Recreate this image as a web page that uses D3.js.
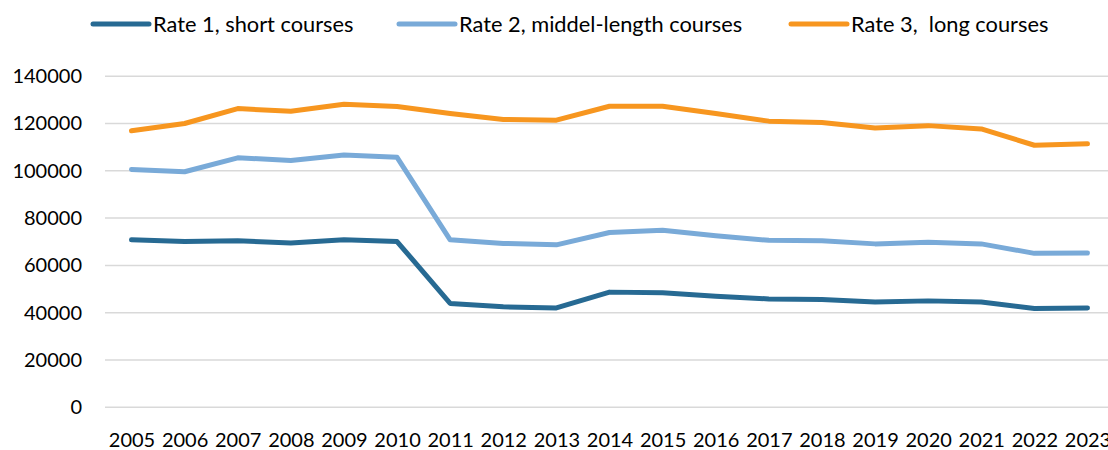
<!DOCTYPE html>
<html>
<head>
<meta charset="utf-8">
<script src="https://cdnjs.cloudflare.com/ajax/libs/d3/7.8.5/d3.min.js"></script>
<style>
  body { margin: 0; background: #fff; }
  text { font-family: Lato, "Open Sans", sans-serif; fill: #000; }
</style>
</head>
<body>
<div id="chart"></div>
<script>
const years = ["2005","2006","2007","2008","2009","2010","2011","2012","2013","2014",
               "2015","2016","2017","2018","2019","2020","2021","2022","2023"];

const rate1 = [70800, 70100, 70400, 69500, 70800, 70100, 43900, 42500, 42000, 48700,
               48400, 47000, 45800, 45600, 44500, 45000, 44500, 41800, 42000];
const rate2 = [100600, 99600, 105500, 104400, 106700, 105700, 70800, 69300, 68700, 73900,
               74900, 72500, 70600, 70400, 69100, 69800, 69100, 65100, 65200];
const rate3 = [116900, 120000, 126300, 125200, 128100, 127200, 124200, 121700, 121400, 127300,
               127300, 124200, 121000, 120400, 118100, 119100, 117700, 110800, 111400];

const seriesNames = ["Rate 1, short courses", "Rate 2, middel-length courses", "Rate 3,  long courses"];
const yTicks = [0, 20000, 40000, 60000, 80000, 100000, 120000, 140000];

const colors = ["#276a93", "#79aad8", "#f7961f"];
const series = [rate1, rate2, rate3];

const width = 1108, height = 450;

const svg = d3.select("#chart")
    .append("svg")
    .attr("width", width)
    .attr("height", height);

// scales
const x = d3.scalePoint()
    .domain(years)
    .range([131.5, 1087.5]);

const y = d3.scaleLinear()
    .domain([0, 140000])
    .range([407.3, 76.2]);

// gridlines
svg.append("g")
    .selectAll("line")
    .data(yTicks)
    .enter()
    .append("line")
    .attr("x1", 105)
    .attr("x2", width)
    .attr("y1", d => y(d))
    .attr("y2", d => y(d))
    .style("stroke", "#d9d9d9")
    .style("stroke-width", 1.5);

// y axis labels
const yAxis = svg.append("g")
    .attr("transform", "translate(82,0)")
    .call(d3.axisLeft(y).tickValues(yTicks).tickSize(0).tickPadding(0).tickFormat(d3.format("d")));
yAxis.select(".domain").remove();
yAxis.selectAll("text")
    .style("font-size", "20px")
    .style("font-family", "Lato, sans-serif")
    .attr("fill", "#000");

// x axis labels
const xAxis = svg.append("g")
    .attr("transform", "translate(0,420)")
    .call(d3.axisBottom(x).tickSize(0).tickPadding(0));
xAxis.select(".domain").remove();
xAxis.selectAll("text")
    .style("font-size", "20px")
    .style("font-family", "Lato, sans-serif")
    .attr("fill", "#000")
    .attr("dy", "0.45em")
    .attr("y", 18);

// lines
const line = d3.line()
    .x((d, i) => x(years[i]))
    .y(d => y(d));

svg.append("g")
    .selectAll("path")
    .data(series)
    .enter()
    .append("path")
    .attr("d", d => line(d))
    .attr("fill", "none")
    .attr("stroke", (d, i) => colors[i])
    .attr("stroke-width", 5)
    .attr("stroke-linejoin", "round")
    .attr("stroke-linecap", "round");

// legend
const legendX = [93, 399, 791];
const legend = svg.append("g")
    .selectAll("g")
    .data(seriesNames)
    .enter()
    .append("g")
    .attr("transform", (d, i) => "translate(" + legendX[i] + ",24)");

legend.append("line")
    .attr("x1", 0)
    .attr("x2", 56)
    .attr("stroke", (d, i) => colors[i])
    .attr("stroke-width", 5)
    .attr("stroke-linecap", "round");

legend.append("text")
    .attr("x", 60)
    .attr("dy", "0.35em")
    .style("font-size", "21.8px")
    .style("white-space", "pre")
    .text(d => d);
</script>
</body>
</html>
